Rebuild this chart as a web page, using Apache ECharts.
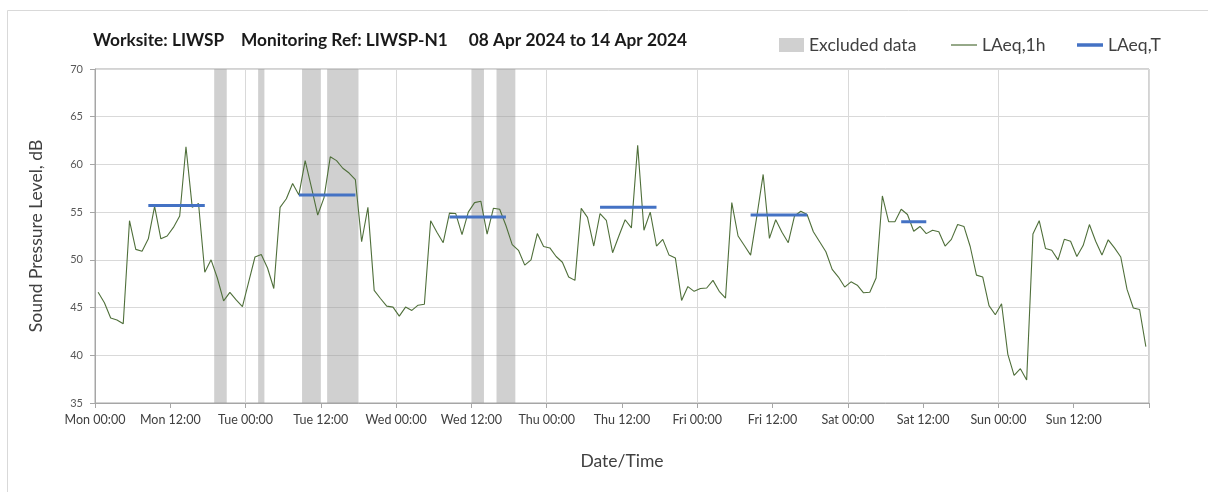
<!DOCTYPE html>
<html>
<head>
<meta charset="utf-8">
<script src="https://cdn.jsdelivr.net/npm/echarts@6/dist/echarts.min.js"></script>
<style>
html,body{margin:0;padding:0;background:#fff;}
#chart{width:1208px;height:492px;}
</style>
</head>
<body>
<div id="chart"></div>
<script>
// Hourly LAeq,1h values, Mon 00:00 (hour 0) to Sun 23:00 (hour 167)
const laeq1h = [
46.6,45.5,43.9,43.7,43.3,54.1,51.1,50.9,52.2,55.6,52.2,52.5,53.4,54.6,61.85,55.5,55.9,48.7,50.0,48.1,45.7,46.6,45.8,45.1,
47.7,50.3,50.55,49.15,47.0,55.5,56.4,58.0,56.8,60.4,57.6,54.7,56.5,60.8,60.4,59.6,59.1,58.4,51.9,55.5,46.8,45.95,45.15,45.05,
44.1,45.05,44.7,45.25,45.35,54.1,52.9,51.8,54.9,54.85,52.65,55.0,56.0,56.15,52.7,55.4,55.3,53.6,51.6,51.0,49.45,50.0,52.75,51.4,
51.25,50.35,49.75,48.2,47.85,55.4,54.45,51.45,54.85,54.15,50.75,52.5,54.2,53.35,62.0,53.1,55.0,51.45,52.15,50.5,50.2,45.75,47.2,46.7,
47.0,47.05,47.85,46.7,46.0,56.0,52.5,51.5,50.5,54.6,58.95,52.25,54.2,52.9,51.8,54.6,55.1,54.75,52.95,51.9,50.85,49.0,48.2,47.15,
47.7,47.35,46.55,46.6,48.1,56.7,54.0,54.0,55.3,54.75,53.0,53.5,52.75,53.1,52.95,51.45,52.15,53.7,53.5,51.4,48.4,48.2,45.2,44.25,
45.4,40.1,37.9,38.6,37.4,52.7,54.1,51.2,51.0,50.0,52.15,51.95,50.35,51.5,53.7,51.95,50.5,52.1,51.25,50.3,46.9,44.95,44.8,40.9
];
// LAeq,T periods (hours from Mon 00:00) and levels
const ltStart = [8.5, 32.5, 56.5, 80.5, 104.5, 128.5];
const ltEnd   = [17.5, 41.5, 65.5, 89.5, 113.5, 132.5];
const ltValue = [55.7, 56.8, 54.5, 55.5, 54.7, 54.0];
// Excluded data periods (hours from Mon 00:00)
const exStart = [19, 26, 33, 37, 60, 64];
const exEnd   = [21, 27, 36, 42, 62, 67];
// Tick labels every 12 hours
const tickLabels = ['Mon 00:00','Mon 12:00','Tue 00:00','Tue 12:00','Wed 00:00','Wed 12:00','Thu 00:00','Thu 12:00',
  'Fri 00:00','Fri 12:00','Sat 00:00','Sat 12:00','Sun 00:00','Sun 12:00'];
const titleText = 'Worksite: LIWSP    Monitoring Ref: LIWSP-N1     08 Apr 2024 to 14 Apr 2024';

const FONT = 'Lato, "Open Sans", sans-serif';
const chart = echarts.init(document.getElementById('chart'), null, {renderer:'canvas'});

const lineData = laeq1h.map((v, i) => [i + 0.5, v]);
const bands = exStart.map((s, i) => [{xAxis: s}, {xAxis: exEnd[i]}]);

const series = [
  {
    name: 'Excluded data', type: 'line', data: [], color: '#d0d0d0',
    markArea: {silent: true, itemStyle: {color: 'rgba(150,150,150,0.45)'}, data: bands}
  },
  {
    name: 'LAeq,1h', type: 'line', data: lineData, color: '#4f6f3a',
    showSymbol: false, symbol: 'none', lineStyle: {width: 1.1, color: '#4f6f3a'}, z: 3
  }
];
ltStart.forEach((s, i) => {
  series.push({
    name: 'LAeq,T', type: 'line', color: '#4472c4', showSymbol: false, symbol: 'none',
    data: [[s, ltValue[i]], [ltEnd[i], ltValue[i]]],
    lineStyle: {width: 3, color: '#4472c4', cap: 'butt'}, z: 4
  });
});

const legendText = {fontFamily: FONT, fontSize: 17.5, color: '#404040'};

chart.setOption({
  animation: false,
  backgroundColor: '#fff',
  title: {
    text: titleText, left: 93, top: 32, padding: 0,
    textStyle: {fontFamily: FONT, fontSize: 17.3, fontWeight: 'bold', color: '#1a1a1a'}
  },
  legend: [
    {data: [{name: 'Excluded data', icon: 'rect'}], left: 779, top: 36, padding: 0, itemWidth: 25, itemHeight: 14,
     textStyle: legendText, selectedMode: false},
    {data: [{name: 'LAeq,1h', icon: 'rect'}], left: 951, top: 36, padding: 0, itemWidth: 26, itemHeight: 1.2,
     textStyle: legendText, selectedMode: false},
    {data: [{name: 'LAeq,T', icon: 'rect'}], left: 1077, top: 36, padding: 0, itemWidth: 26, itemHeight: 3.5,
     textStyle: legendText, selectedMode: false}
  ],
  graphic: [
    {type: 'rect', left: 5, top: 8, shape: {x: 0, y: 0, width: 1220, height: 500}, z: -10,
     style: {fill: 'none', stroke: '#d9d9d9', lineWidth: 1}}
  ],
  grid: {left: 95, right: 59, top: 69, bottom: 89, show: true, borderColor: '#a6a6a6', borderWidth: 1,
         backgroundColor: 'transparent'},
  xAxis: [
    {
      type: 'value', min: 0, max: 168, interval: 12,
      name: 'Date/Time', nameLocation: 'middle', nameGap: 49,
      nameTextStyle: {fontFamily: FONT, fontSize: 17.5, color: '#404040'},
      axisLine: {show: true, lineStyle: {color: '#a6a6a6'}},
      axisTick: {show: true, length: 5, lineStyle: {color: '#a6a6a6'}},
      axisLabel: {fontFamily: FONT, fontSize: 12.5, color: '#404040', margin: 10,
        formatter: v => tickLabels[Math.round(v / 12)] || ''},
      splitLine: {show: false}
    },
    {
      type: 'value', min: 0, max: 168, interval: 24, position: 'bottom',
      axisLine: {show: false}, axisTick: {show: false}, axisLabel: {show: false},
      splitLine: {show: true, lineStyle: {color: '#d9d9d9', width: 1}}
    }
  ],
  yAxis: {
    type: 'value', min: 35, max: 70, interval: 5,
    name: 'Sound Pressure Level, dB', nameLocation: 'middle', nameGap: 50,
    nameTextStyle: {fontFamily: FONT, fontSize: 17.5, color: '#404040'},
    axisLine: {show: true, lineStyle: {color: '#a6a6a6'}},
    axisTick: {show: true, length: 5, lineStyle: {color: '#a6a6a6'}},
    axisLabel: {fontFamily: FONT, fontSize: 11, color: '#595959', margin: 12},
    splitLine: {show: true, lineStyle: {color: '#d9d9d9', width: 1}}
  },
  series: series
});
</script>
</body>
</html>
